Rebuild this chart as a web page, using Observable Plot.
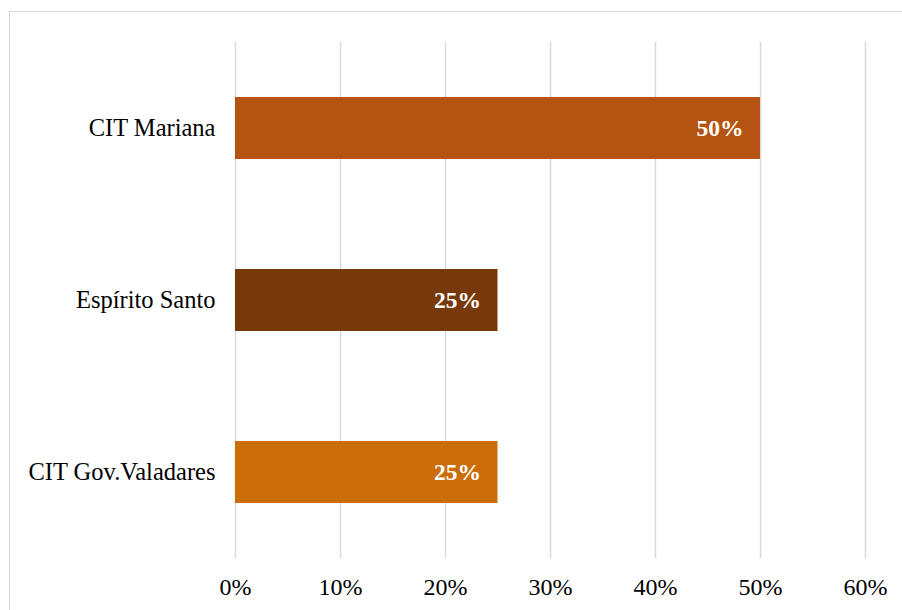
<!DOCTYPE html>
<html>
<head>
<meta charset="utf-8">
<script src="https://cdn.jsdelivr.net/npm/d3@7"></script>
<script src="https://cdn.jsdelivr.net/npm/@observablehq/plot@0.6"></script>
<style>
  html, body { margin: 0; padding: 0; background: #fff; }
  #wrap { position: relative; width: 902px; height: 610px; overflow: hidden; }
  #border { position: absolute; left: 9px; top: 11px; width: 900px; height: 610px; border: 1.5px solid #d9d9d9; box-sizing: border-box; }
  #chart { position: absolute; left: 0; top: 0; }
</style>
</head>
<body>
<div id="wrap"><div id="border"></div><div id="chart"></div></div>
<script>
const categories = ["CIT Mariana", "Espírito Santo", "CIT Gov.Valadares"];
const values = [0.50, 0.25, 0.25];
const colors = ["#B45410", "#773909", "#CB6E09"];
const xTicks = [0, 0.1, 0.2, 0.3, 0.4, 0.5, 0.6];

const data = categories.map((c, i) => ({category: c, value: values[i], color: colors[i]}));

const chart = Plot.plot({
  width: 902,
  height: 610,
  marginLeft: 235,
  marginRight: 37,
  marginTop: 42,
  marginBottom: 52,
  style: {fontFamily: "'Liberation Serif', 'Times New Roman', serif", fontSize: "24px", color: "#000", background: "transparent"},
  x: {domain: [0, 0.6], ticks: xTicks, tickFormat: d => Math.round(d * 100) + "%", tickSize: 0, tickPadding: 19, label: null},
  y: {domain: categories, paddingInner: 0.64, paddingOuter: 0.32, tickSize: 0, tickPadding: 20, label: null},
  marks: [
    Plot.ruleX(xTicks, {stroke: "#d9d9d9", strokeWidth: 1.5}),
    Plot.barX(data, {x: "value", y: "category", fill: "color"}),
    Plot.text(data, {x: "value", y: "category", text: d => Math.round(d.value * 100) + "%", textAnchor: "end", dx: -17, fill: "#fff", fontWeight: "bold", fontSize: 23.5}),
    Plot.axisX({ticks: xTicks, tickFormat: d => Math.round(d * 100) + "%", tickSize: 0, tickPadding: 19, fontSize: 24}),
    Plot.axisY({tickSize: 0, tickPadding: 20, fontSize: 24.5})
  ]
});
document.getElementById("chart").appendChild(chart);
</script>
</body>
</html>
